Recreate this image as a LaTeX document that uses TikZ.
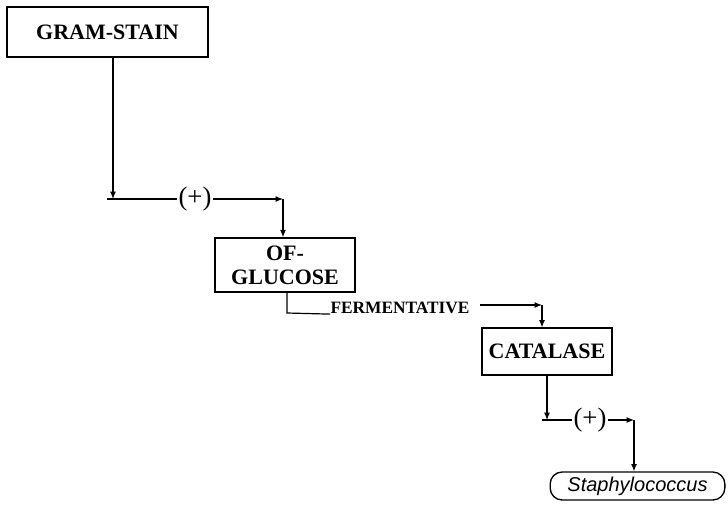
\documentclass[tikz,border=0pt]{standalone}
\usepackage{fontspec}
\setmainfont{Liberation Serif}
\newfontfamily\organismfont{Liberation Sans}
\usetikzlibrary{arrows.meta, positioning}

\tikzset{
  testbox/.style={draw, line width=1.1pt, inner sep=0pt, align=center,
    font=\fontsize{16.5}{18}\selectfont\bfseries},
  result/.style={inner sep=1pt, font=\fontsize{20}{22}\selectfont},
  organism/.style={draw, line width=1pt, rounded corners=9pt, inner sep=0pt,
    font=\organismfont\itshape\fontsize{15}{16}\selectfont},
  flow/.style={line width=0.9pt, -{Latex[length=5.5pt,width=4.5pt]}},
  link/.style={line width=0.9pt},
}

\begin{document}
\begin{tikzpicture}[x=0.75pt, y=-0.75pt]
    \useasboundingbox (0,0) rectangle (728,518);

    % tests
    \node[testbox, minimum width=151pt, minimum height=37.5pt] (gram) at (107.5,32) {GRAM-STAIN};
    \node[testbox, minimum width=105pt, minimum height=40.5pt] (ofg) at (285,265) {OF-\\GLUCOSE};
    \node[testbox, minimum width=97.5pt, minimum height=35pt] (cat) at (547,351.5) {CATALASE};
    \node[organism, minimum width=131pt, minimum height=21pt] (staph) at (637.5,486) {Staphylococcus};

    % results
    \node[result] (plus1) at (195,199) {(+)};
    \node[inner sep=0pt, font=\fontsize{13}{15}\selectfont\bfseries] (ferm) at (400,308) {FERMENTATIVE};
    \node[result] (plus2) at (590,420) {(+)};

    % corners
    \coordinate (c1) at (113,199);
    \coordinate (h1) at (107,199);
    \coordinate (c2) at (283,199);
    \coordinate (c3) at (287,313);
    \coordinate (f1) at (480,305);
    \coordinate (c4) at (542,305);
    \coordinate (c5) at (547,420);
    \coordinate (h2) at (542,420);
    \coordinate (c6) at (634,420);

    % gram-stain -> of-glucose
    \draw[flow] (gram.south -| c1) -- (c1);
    \draw[link] (h1) -- (plus1.west);
    \draw[flow] (plus1.east) -- (c2);
    \draw[flow] (c2) -- (ofg.north -| c2);

    % of-glucose -> catalase
    \draw[link] (ofg.south -| c3) -- (c3) -- (ferm.south west);
    \draw[flow] (f1) -- (c4);
    \draw[flow] (c4) -- (cat.north -| c4);

    % catalase -> staphylococcus
    \draw[flow] (cat.south -| c5) -- (c5);
    \draw[link] (h2) -- (plus2.west);
    \draw[flow] (plus2.east) -- (c6);
    \draw[flow] (c6) -- (staph.north -| c6);

\end{tikzpicture}
\end{document}
